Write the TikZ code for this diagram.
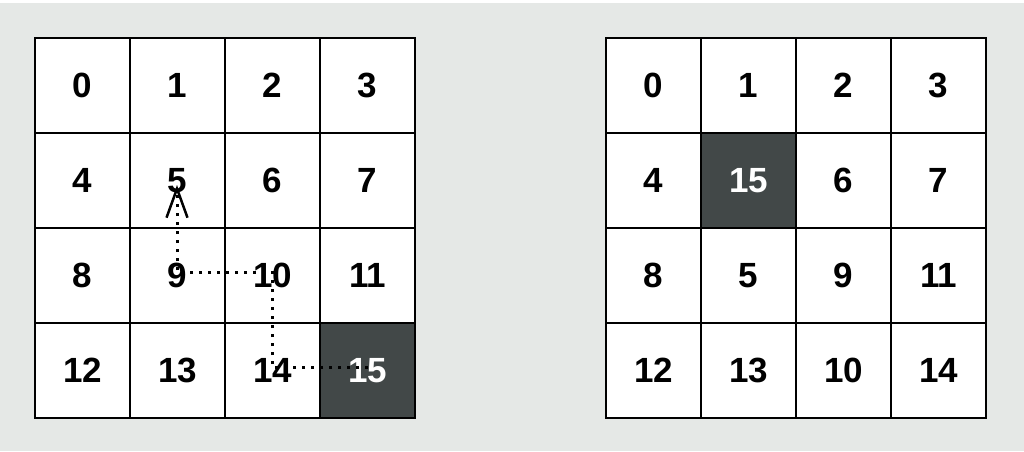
\documentclass[tikz,border=0pt]{standalone}
\usepackage{fontspec}
\setmainfont{Liberation Sans}
\usetikzlibrary{arrows.meta}
\definecolor{bggray}{RGB}{229,232,230}
\definecolor{cellgray}{RGB}{66,72,72}

\begin{document}
\begin{tikzpicture}[x=1pt,y=-1pt,
  cell/.style={draw=black,line width=2.2pt,minimum size=95pt,inner sep=0pt,
    font=\fontsize{35}{35}\selectfont\bfseries},
  path dots/.style={line width=3pt,dash pattern=on 3pt off 6pt}]
\useasboundingbox (0,0) rectangle (1024,451);
\fill[bggray] (0,3) rectangle (1024,451);
% left board
\foreach \n in {0,...,15} {
 \pgfmathtruncatemacro\col{mod(\n,4)}
 \pgfmathtruncatemacro\row{div(\n,4)}
 \ifnum\n=15 \def\cfill{cellgray}\def\ctext{white}\else\def\cfill{white}\def\ctext{black}\fi
 \node[cell,fill=\cfill,text=\ctext] (L\n) at (82.5+95*\col,85.5+95*\row) {\n};
}
% right board
\foreach \lab [count=\i from 0] in {0,1,2,3,4,15,6,7,8,5,9,11,12,13,10,14} {
 \pgfmathtruncatemacro\col{mod(\i,4)}
 \pgfmathtruncatemacro\row{div(\i,4)}
 \ifnum\i=5 \def\cfill{cellgray}\def\ctext{white}\else\def\cfill{white}\def\ctext{black}\fi
 \node[cell,fill=\cfill,text=\ctext] (R\i) at (653.5+95*\col,85.5+95*\row) {\lab};
}
% move path
\coordinate (s15) at (368,367);
\coordinate (s14) at (272,367);
\coordinate (s10) at (272,272);
\coordinate (s9) at (177,272);
\coordinate (s5) at (177,185);
\draw[path dots,-{Straight Barb[length=29pt,width=21pt,line width=2.5pt]}]
  (s15) -- (s14) -- (s10) -- (s9) -- (s5);
\end{tikzpicture}
\end{document}
